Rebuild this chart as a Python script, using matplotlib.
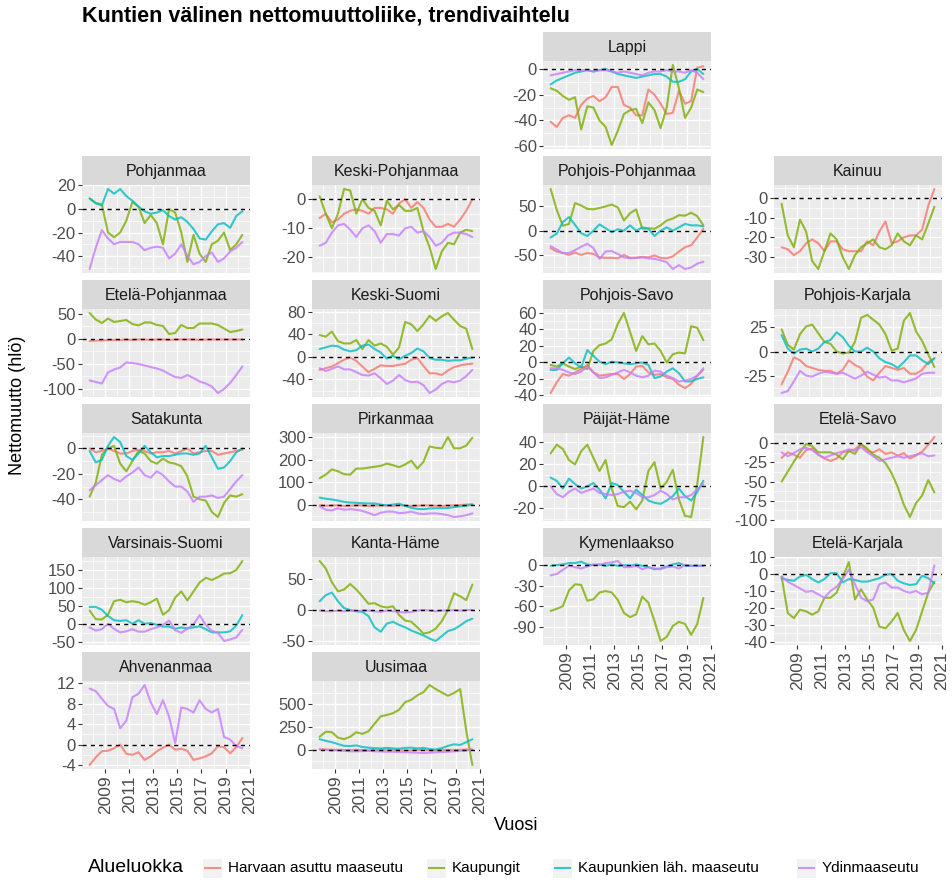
import numpy as np
import matplotlib
matplotlib.use("Agg")
import matplotlib.pyplot as plt
from matplotlib.patches import Rectangle
from matplotlib.lines import Line2D

plt.rcParams['font.family'] = ['Liberation Sans', 'DejaVu Sans']

# ---------------- data ----------------
years = np.linspace(2007.7, 2020.4, 26)
series_names = ["Harvaan asuttu maaseutu", "Kaupungit", "Kaupunkien läh. maaseutu", "Ydinmaaseutu"]
series_colors = ["#F8766D", "#7CAE00", "#00BFC4", "#C77CFF"]
xtick_years = [2009, 2011, 2013, 2015, 2017, 2019, 2021]

lappi_H = [-41,-45,-38,-36,-38,-28,-23,-21,-25,-22,-14,-14,-28,-30,-36,-36,-16,-20,-27,-35,-34,-17,-27,-25,1,2]
lappi_K = [-15,-17,-21,-24,-22,-47,-29,-30,-40,-45,-59,-48,-35,-32,-31,-42,-26,-32,-46,-30,3,-15,-38,-30,-16,-18]
lappi_L = [-12,-9,-7,-5,-3,-2,-1,-2,-1,0,-2,-4,-5,-6,-7,-6,-5,-4,-4,-6,-10,-10,-8,-2,0,-4]
lappi_Y = [-5,-4,-3,-2,-1,-1,-1,-2,-1,-1,-2,-3,-2,-3,-4,-5,-3,-2,-2,-1,-2,-2,-3,-1,-3,-8]

pohjanmaa_K = [9,5,4,-20,-24,-20,-10,6,2,-12,-5,-12,-30,0,-3,-20,-45,-22,-38,-45,-30,-27,-20,-35,-30,-22]
pohjanmaa_L = [9,5,3,17,13,17,11,7,2,-2,-4,-3,-1,-6,-9,-7,-11,-17,-25,-26,-19,-13,-12,-16,-6,-2]
pohjanmaa_Y = [-51,-33,-18,-25,-30,-28,-28,-28,-30,-35,-33,-32,-33,-42,-38,-30,-40,-47,-45,-40,-37,-45,-42,-36,-33,-28]

keskipohjanmaa_H = [-6.5,-5,-8,-7,-5,-4,-3.5,-4,-5,-3,-3,-3.5,-5,-1.5,0,-3,-1,-3,-7,-9.5,-9.5,-8.5,-9.5,-7,-4,0]
keskipohjanmaa_K = [1,-5,-10,-5,3.5,3,-5,0,-3,-4,-9,-0.5,-3.5,-2,-4,-4,-3,-11,-16.5,-24,-18,-15,-15.5,-11.5,-10.5,-11]
keskipohjanmaa_Y = [-16,-15,-11.5,-9,-8.5,-10.5,-13,-10,-9,-11,-15,-12,-12,-12.5,-10,-9.5,-11.5,-11,-13,-16,-15,-12.5,-11.5,-11.5,-12,-13]

pohjoispohjanmaa_H = [-36,-43,-46,-50,-45,-50,-46,-48,-55,-56,-56,-57,-50,-56,-56,-54,-55,-51,-56,-57,-53,-43,-34,-30,-14,4]
pohjoispohjanmaa_K = [86,43,10,14,57,52,45,44,47,50,54,48,21,36,44,4,5,4,11,21,25,32,31,37,30,11]
pohjoispohjanmaa_L = [-14,-6,18,28,12,-5,-11,0,13,5,-3,3,0,11,0,7,4,-11,0,7,0,7,14,11,11,9]
pohjoispohjanmaa_Y = [-32,-39,-46,-46,-40,-33,-27,-36,-58,-43,-42,-48,-55,-57,-56,-55,-57,-58,-61,-65,-79,-71,-79,-76,-68,-64]

kainuu_H = [-25,-26,-29,-27,-23,-21,-23,-27,-22,-22,-26,-27,-27,-27,-22,-24,-17,-12,-23,-22,-20,-19,-19,-16,-4,4.5]
kainuu_K = [-3,-19,-25,-11,-17,-32,-36,-27,-18,-21,-30,-36,-29,-25,-23,-21,-25,-26,-24,-18,-22,-24,-19,-21,-13,-4.5]

etelapohjanmaa_H = [-4,-3,-3,-2,-2,-2,-1,-2,-1,-1,-2,-1,-1,-2,-1,-1,-1,-1,-2,-1,-1,-1,-1,-1,-1,-1]
etelapohjanmaa_K = [52,39,32,41,34,36,38,30,27,33,33,28,26,10,12,28,22,22,31,31,31,28,21,14,16,19]
etelapohjanmaa_Y = [-83,-86,-89,-67,-61,-57,-47,-48,-50,-53,-56,-59,-63,-70,-76,-78,-72,-78,-85,-89,-95,-108,-100,-88,-72,-55]

keskisuomi_H = [-23,-20,-17,-11,-5,-1,-7,-17,-27,-21,-15,-16,-16,-14,-12,-5,-2,-16,-29,-29,-32,-24,-18,-15,-13,-12]
keskisuomi_K = [39,36,45,28,24,24,30,14,30,20,24,18,4,17,62,58,46,58,73,64,72,78,66,55,50,14]
keskisuomi_L = [14,17,20,19,13,10,12,20,22,14,8,-3,2,-4,2,7,15,10,-2,-5,-5,-7,-6,-6,-3,-1]
keskisuomi_Y = [-20,-25,-21,-17,-22,-22,-27,-32,-33,-29,-38,-48,-42,-32,-41,-45,-44,-50,-64,-58,-48,-43,-45,-42,-34,-23]

pohjoissavo_H = [-37,-24,-14,-16,-12,-8,-3,-12,-16,-15,-14,-14,-20,-14,-5,-4,-12,-15,-14,-18,-20,-27,-31,-26,-16,-9]
pohjoissavo_K = [-3,-5,-1,-5,-8,-5,-8,14,21,23,28,47,60,37,14,32,22,23,14,0,10,12,11,44,42,27]
pohjoissavo_L = [-9,-9,-1,6,-1,-6,15,8,1,-2,1,0,-1,-2,-1,0,-3,-19,-17,-11,-7,-13,-23,-23,-20,-18]
pohjoissavo_Y = [-7,-7,-9,-12,-14,-11,-5,-12,-19,-18,-15,-12,-9,-12,-16,-18,-16,-10,-11,-16,-19,-23,-22,-20,-16,-7]

pohjoiskarjala_H = [-34,-21,-6,-9,-15,-17,-19,-20,-20,-23,-19,-9,-14,-17,-26,-30,-22,-15,-17,-19,-17,-23,-23,-19,-11,-7]
pohjoiskarjala_K = [23,7,2,18,26,28,19,10,8,0,-2,-1,10,35,38,33,28,18,1,3,32,40,21,11,-3,-16]
pohjoiskarjala_L = [17,3,-2,2,3,0,3,10,12,20,15,6,0,0,4,0,-7,-11,-13,-17,-11,-4,-4,-9,-13,-7]
pohjoiskarjala_Y = [-43,-41,-31,-20,-25,-26,-23,-21,-22,-23,-22,-25,-28,-25,-21,-24,-27,-26,-30,-30,-32,-30,-28,-23,-22,-22]

satakunta_H = [0,-3,-2,0,-2,-4,-4,-2,-1,-2,-4,-3,-3,-2,-4,-2,0,-4,-3,-2,-2,-5,-4,-3,-2,-1]
satakunta_K = [-38,-27,-5,0,2,-12,-18,-10,-2,-4,-10,-12,-8,-11,-12,-14,-22,-38,-40,-41,-50,-54,-43,-37,-38,-36]
satakunta_L = [-2,-11,-9,2,9,5,-6,-9,-4,2,-3,-7,-6,-6,-5,-4,-4,-5,-4,2,-7,-16,-15,-10,-3,0]
satakunta_Y = [-33,-29,-25,-21,-24,-26,-22,-19,-15,-21,-23,-18,-21,-26,-30,-30,-34,-42,-38,-38,-37,-39,-38,-32,-26,-21]

pirkanmaa_H = [-3,-5,-4,-3,-6,-5,-3,-4,-6,-5,-3,-4,-6,-3,-4,-6,-5,-3,-4,-5,-6,-4,-3,-2,0,2]
pirkanmaa_K = [117,133,156,148,135,133,160,160,164,168,172,182,175,166,178,195,160,190,258,252,250,300,250,250,262,297]
pirkanmaa_L = [31,26,23,18,12,9,8,6,5,5,0,-4,0,4,-6,-14,-19,-20,-17,-16,-16,-15,-11,-8,-5,0]
pirkanmaa_Y = [-8,-23,-26,-16,-23,-20,-23,-28,-37,-47,-36,-31,-31,-38,-36,-31,-39,-42,-39,-39,-42,-47,-55,-52,-47,-39]

paijathame_K = [30,38,34,24,20,32,38,26,14,24,-2,-18,-19,-14,-21,-13,14,22,-2,4,15,-12,-27,-28,2,45]
paijathame_L = [8,5,-2,7,2,-2,0,3,-3,-11,3,1,-5,-11,-3,-8,-13,-15,-16,-13,-9,-2,-9,-13,-5,5]
paijathame_Y = [0,-7,-10,-5,-2,-6,-4,-2,-6,-7,-8,-7,-5,-4,-6,-10,-10,-8,-4,-7,-12,-10,-10,-8,-3,2]

etelasavo_H = [-19,-12,-15,-19,-9,-7,-15,-20,-23,-20,-12,-10,-8,-1,-10,-12,-8,-14,-12,-16,-13,-20,-16,-11,-2,8]
etelasavo_K = [-50,-37,-24,-12,-1,-4,-12,-12,-12,-15,-21,-10,-14,-1,-7,-15,-19,-26,-39,-57,-80,-96,-78,-68,-48,-64]
etelasavo_Y = [-12,-17,-13,-8,-6,-9,-15,-19,-16,-13,-11,-8,-10,-5,-12,-17,-23,-21,-19,-17,-19,-17,-15,-13,-17,-16]

varsinaissuomi_K = [37,13,12,25,63,67,60,63,60,53,60,70,25,38,73,90,65,90,115,128,122,130,140,141,150,175]
varsinaissuomi_L = [47,47,39,22,10,8,10,0,10,0,2,-3,-8,-8,-14,-10,-13,-10,-7,-15,-24,-24,-24,-21,-5,24]
varsinaissuomi_Y = [-10,-19,-15,0,-14,-24,-21,-15,-22,-22,-15,-10,-3,9,-18,-25,-14,-2,24,-3,-20,-25,-48,-44,-38,-17]

kantahame_K = [79,67,45,30,33,42,33,22,10,11,6,4,6,-8,-17,-19,-28,-38,-36,-30,-18,0,27,22,16,41]
kantahame_L = [14,24,28,14,3,0,-2,-3,-10,-28,-35,-22,-19,-24,-28,-33,-37,-41,-46,-50,-42,-34,-31,-25,-18,-14]
kantahame_Y = [-1,-2,-2,-1,-2,-1,-2,-1,-1,-2,-3,-1,-2,-3,-4,-3,-1,0,-1,-2,-1,-1,0,-1,0,0]

kymenlaakso_K = [-67,-64,-60,-37,-28,-29,-52,-50,-40,-38,-40,-51,-70,-76,-72,-46,-55,-82,-111,-105,-89,-83,-86,-102,-86,-48]
kymenlaakso_L = [-1,0,1,3,3,5,1,0,1,-1,1,-1,0,-1,1,-1,-3,-6,-5,-2,1,3,-1,-1,-1,-1]
kymenlaakso_Y = [-15,-13,-7,-1,-3,-5,-2,1,0,3,4,6,-3,-3,-1,-6,-3,-5,-6,-3,-2,-5,0,-1,-1,-1]

etelakarjala_K = [-1.5,-23,-26,-21,-22,-24,-22,-14,-14,-11,-2,7,-15,-9,-15,-20,-31,-32,-28,-23,-33,-39.5,-33,-22,-11,-4.5]
etelakarjala_L = [-2.5,-3.5,-4,-1.5,-0.5,-3,-5,-3,0.5,0.5,-5,-3,-3.5,-4.5,-4.5,-3.5,-2.5,-0.5,0,-4,-5.5,-6.5,-6,-1,-2.5,-5.5]
etelakarjala_Y = [-1.5,-4.5,-6.5,-8.5,-10.5,-10,-12,-14,-10,-7.5,-3,2.5,-6,-14,-16,-15,-6,-5,-8,-8,-10,-11,-10,-12,-11,5]

ahvenanmaa_H = [-4,-2.5,-1.3,-1.2,-0.7,0,-1.8,-2,-1.5,-3,-2.3,-1.3,-0.6,0,-1,-0.8,-1.2,-3,-2.7,-2.3,-1.7,-0.3,-0.5,-1.7,-0.5,1.3]
ahvenanmaa_Y = [11,10.5,9,7.6,7,3.2,4.7,9.3,10,11.7,8.3,6,8.7,5.5,0.3,7.3,7,6.3,8.7,7,6.3,7,1.5,1,-0.3,-0.7]

uusimaa_H = [2,0,-2,-3,-5,-5,-3,-5,-8,-5,-5,-3,-5,-8,-10,-8,-5,-5,-10,-8,-5,-3,-5,-3,0,2]
uusimaa_K = [140,195,190,130,114,140,190,172,200,284,365,379,398,436,520,545,595,630,708,663,625,590,620,663,208,-170]
uusimaa_L = [114,95,80,60,40,38,45,28,20,15,12,18,12,8,18,20,12,18,5,0,15,40,57,50,80,114]
uusimaa_Y = [0,-5,-10,-10,-15,-20,-20,-18,-15,-20,-22,-25,-25,-28,-30,-32,-35,-38,-35,-30,-28,-25,-20,-15,-10,0]

# region name, row, col, y ticks, series (H, K, L, Y)
panels = [
    ("Lappi", 0, 2, [0, -20, -40, -60], (lappi_H, lappi_K, lappi_L, lappi_Y)),
    ("Pohjanmaa", 1, 0, [20, 0, -20, -40], (None, pohjanmaa_K, pohjanmaa_L, pohjanmaa_Y)),
    ("Keski-Pohjanmaa", 1, 1, [0, -10, -20], (keskipohjanmaa_H, keskipohjanmaa_K, None, keskipohjanmaa_Y)),
    ("Pohjois-Pohjanmaa", 1, 2, [50, 0, -50], (pohjoispohjanmaa_H, pohjoispohjanmaa_K, pohjoispohjanmaa_L, pohjoispohjanmaa_Y)),
    ("Kainuu", 1, 3, [0, -10, -20, -30], (kainuu_H, kainuu_K, None, None)),
    ("Etelä-Pohjanmaa", 2, 0, [50, 0, -50, -100], (etelapohjanmaa_H, etelapohjanmaa_K, None, etelapohjanmaa_Y)),
    ("Keski-Suomi", 2, 1, [80, 40, 0, -40], (keskisuomi_H, keskisuomi_K, keskisuomi_L, keskisuomi_Y)),
    ("Pohjois-Savo", 2, 2, [60, 40, 20, 0, -20, -40], (pohjoissavo_H, pohjoissavo_K, pohjoissavo_L, pohjoissavo_Y)),
    ("Pohjois-Karjala", 2, 3, [25, 0, -25], (pohjoiskarjala_H, pohjoiskarjala_K, pohjoiskarjala_L, pohjoiskarjala_Y)),
    ("Satakunta", 3, 0, [0, -20, -40], (satakunta_H, satakunta_K, satakunta_L, satakunta_Y)),
    ("Pirkanmaa", 3, 1, [300, 200, 100, 0], (pirkanmaa_H, pirkanmaa_K, pirkanmaa_L, pirkanmaa_Y)),
    ("Päijät-Häme", 3, 2, [40, 20, 0, -20], (None, paijathame_K, paijathame_L, paijathame_Y)),
    ("Etelä-Savo", 3, 3, [0, -25, -50, -75, -100], (etelasavo_H, etelasavo_K, None, etelasavo_Y)),
    ("Varsinais-Suomi", 4, 0, [150, 100, 50, 0, -50], (None, varsinaissuomi_K, varsinaissuomi_L, varsinaissuomi_Y)),
    ("Kanta-Häme", 4, 1, [50, 0, -50], (None, kantahame_K, kantahame_L, kantahame_Y)),
    ("Kymenlaakso", 4, 2, [0, -30, -60, -90], (None, kymenlaakso_K, kymenlaakso_L, kymenlaakso_Y)),
    ("Etelä-Karjala", 4, 3, [10, 0, -10, -20, -30, -40], (None, etelakarjala_K, etelakarjala_L, etelakarjala_Y)),
    ("Ahvenanmaa", 5, 0, [12, 8, 4, 0, -4], (ahvenanmaa_H, None, None, ahvenanmaa_Y)),
    ("Uusimaa", 5, 1, [500, 250, 0], (uusimaa_H, uusimaa_K, uusimaa_L, uusimaa_Y)),
]
bottom_panels = {"Ahvenanmaa", "Uusimaa", "Kymenlaakso", "Etelä-Karjala"}

# ---------------- layout ----------------
W, H = 952, 883
fig = plt.figure(figsize=(W / 100, H / 100), dpi=100)
fig.patch.set_facecolor("white")

def frect(x0, y0, w, h):
    return [x0 / W, 1 - (y0 + h) / H, w / W, h / H]

col_x = [82, 312, 543, 774]
PW, STRIP_H, PH = 168, 29, 88
def row_top(r):
    return 32 + 124 * r

x_lo, x_hi = years.min(), years.max()
x_pad = 0.05 * (x_hi - x_lo)
xminor = list(range(2008, 2021, 2))

for name, r, c, yt, series in panels:
    ax = fig.add_axes(frect(col_x[c], row_top(r) + STRIP_H, PW, PH))
    ax.set_facecolor("#EBEBEB")
    arrs = [np.asarray(s, float) for s in series if s is not None]
    allv = np.concatenate(arrs + [np.array([0.0])])
    lo, hi = allv.min(), allv.max()
    yp = 0.05 * (hi - lo)
    ax.set_ylim(lo - yp, hi + yp)
    ax.set_xlim(x_lo - x_pad, x_hi + x_pad)

    ax.set_xticks(xtick_years)
    ax.set_xticks(xminor, minor=True)
    ys = sorted(yt)
    d = ys[1] - ys[0]
    ymin_t = [v for v in np.arange(ys[0] - d / 2, ys[-1] + d, d) if lo - yp <= v <= hi + yp]
    ax.set_yticks(yt)
    ax.set_yticklabels([f"{v:g}" for v in yt])
    ax.set_yticks(ymin_t, minor=True)
    ax.grid(which="major", color="white", lw=1.0)
    ax.grid(which="minor", color="white", lw=0.5)
    ax.set_axisbelow(True)
    for s in ax.spines.values():
        s.set_visible(False)
    ax.tick_params(which="minor", length=0)
    ax.tick_params(axis="y", which="major", length=3, width=0.8, color="#333333",
                   labelsize=12, labelcolor="#4D4D4D", pad=1.5)
    if name in bottom_panels:
        ax.set_xticklabels([str(v) for v in xtick_years], rotation=90)
        ax.tick_params(axis="x", which="major", length=3, width=0.8, color="#333333",
                       labelsize=12.5, labelcolor="#4D4D4D", pad=1.5)
    else:
        ax.tick_params(axis="x", which="major", length=0, labelbottom=False)

    for k, s in enumerate(series):
        if s is None:
            continue
        ax.plot(years, s, color=series_colors[k], lw=1.5, alpha=0.8, zorder=2,
                solid_joinstyle="round", solid_capstyle="round")
    ax.axhline(0, color="black", lw=1.0, ls=(0, (3, 3)), zorder=3)

    sax = fig.add_axes(frect(col_x[c], row_top(r), PW, STRIP_H))
    sax.set_facecolor("#D9D9D9")
    sax.set_xticks([])
    sax.set_yticks([])
    for s in sax.spines.values():
        s.set_visible(False)
    sax.text(0.5, 0.45, name, ha="center", va="center", fontsize=11.5, color="#1A1A1A",
             transform=sax.transAxes)

# titles
fig.text(82 / W, 1 - 16 / H, "Kuntien välinen nettomuuttoliike, trendivaihtelu",
         fontsize=15.5, fontweight="bold", ha="left", va="center", color="black")
fig.text(18 / W, 1 - 405 / H, "Nettomuutto (hlö)", rotation=90, ha="center", va="center",
         fontsize=13, color="black")
fig.text(516 / W, 1 - 826 / H, "Vuosi", ha="center", va="center", fontsize=13, color="black")

# legend
lax = fig.add_axes([0, 0, 1, 1])
lax.set_xlim(0, W)
lax.set_ylim(H, 0)
lax.axis("off")
lax.patch.set_alpha(0)
ly = 868
lax.text(88, ly, "Alueluokka", fontsize=14, ha="left", va="center", color="black")
text_x = [228, 452, 578, 822]
for k, nm in enumerate(series_names):
    kx = text_x[k] - 25
    lax.add_patch(Rectangle((kx, ly - 9.5), 19, 19, facecolor="#F2F2F2", edgecolor="none"))
    lax.add_line(Line2D([kx + 2, kx + 17], [ly, ly], color=series_colors[k], lw=1.5, alpha=0.8))
    lax.text(text_x[k], ly, nm, fontsize=11, ha="left", va="center", color="black")

fig.savefig("out.png", dpi=100)
